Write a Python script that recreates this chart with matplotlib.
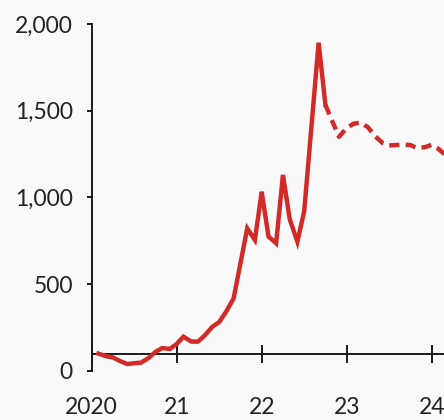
import matplotlib
matplotlib.use("Agg")
import matplotlib.pyplot as plt

plt.rcParams["font.family"] = ["Lato", "DejaVu Sans"]

# solid part (actual)
years = [2020.08, 2020.17, 2020.25, 2020.33, 2020.42, 2020.50, 2020.58, 2020.67,
         2020.75, 2020.83, 2020.92, 2021.00, 2021.08, 2021.17, 2021.25, 2021.33,
         2021.42, 2021.50, 2021.58, 2021.67, 2021.75, 2021.83, 2021.92, 2022.00,
         2022.08, 2022.17, 2022.25, 2022.33, 2022.42, 2022.50, 2022.67, 2022.75]
values = [100, 85, 78, 58, 40, 45, 48, 75,
          110, 132, 127, 156, 198, 170, 169, 205,
          255, 282, 340, 419, 620, 822, 755, 1033,
          775, 736, 1130, 875, 745, 920, 1892, 1533]

# dashed part (projection)
proj_years = [2022.75, 2022.83, 2022.91, 2023.00, 2023.08, 2023.16, 2023.25,
              2023.33, 2023.42, 2023.50, 2023.58, 2023.67, 2023.75, 2023.83,
              2023.92, 2024.00, 2024.08, 2024.15]
proj_values = [1533, 1440, 1350, 1400, 1425, 1431, 1405,
               1355, 1315, 1300, 1302, 1305, 1302, 1285,
               1290, 1303, 1280, 1250]

xticks = [2020, 2021, 2022, 2023, 2024]
xlabels = ["2020", "21", "22", "23", "24"]
yticks = [0, 500, 1000, 1500, 2000]
ylabels = ["0", "500", "1,000", "1,500", "2,000"]

bg = "#f9f9f9"
red = "#d22b27"
ink = "#1a1a1a"

fig = plt.figure(figsize=(4.44, 4.20), dpi=100, facecolor=bg)
ax = fig.add_axes([0.2065, 0.1167, 0.7935, 0.8263])
ax.set_facecolor(bg)

ax.plot(years, values, color=red, lw=3.2, solid_joinstyle="miter", zorder=3)
ax.plot(proj_years, proj_values, color=red, lw=3.2, linestyle=(0, (2.3, 1.4)), zorder=3)

ax.set_xlim(2020, 2024.145)
ax.set_ylim(0, 2000)

for s in ["top", "right"]:
    ax.spines[s].set_visible(False)
ax.spines["left"].set_color(ink)
ax.spines["left"].set_linewidth(1.4)
ax.spines["bottom"].set_position(("data", 100))
ax.spines["bottom"].set_color(ink)
ax.spines["bottom"].set_linewidth(1.4)

ax.set_xticks(xticks)
ax.set_xticklabels(xlabels)
ax.set_yticks(yticks)
ax.set_yticklabels(ylabels)

ax.tick_params(axis="y", direction="out", length=3.6, width=1.4, color=ink,
               pad=10, labelsize=16.5, labelcolor="#222222")
ax.tick_params(axis="x", direction="inout", length=13, width=1.4, color=ink,
               pad=25, labelsize=16.5, labelcolor="#222222")

fig.savefig("out.png", dpi=100, facecolor=bg)
